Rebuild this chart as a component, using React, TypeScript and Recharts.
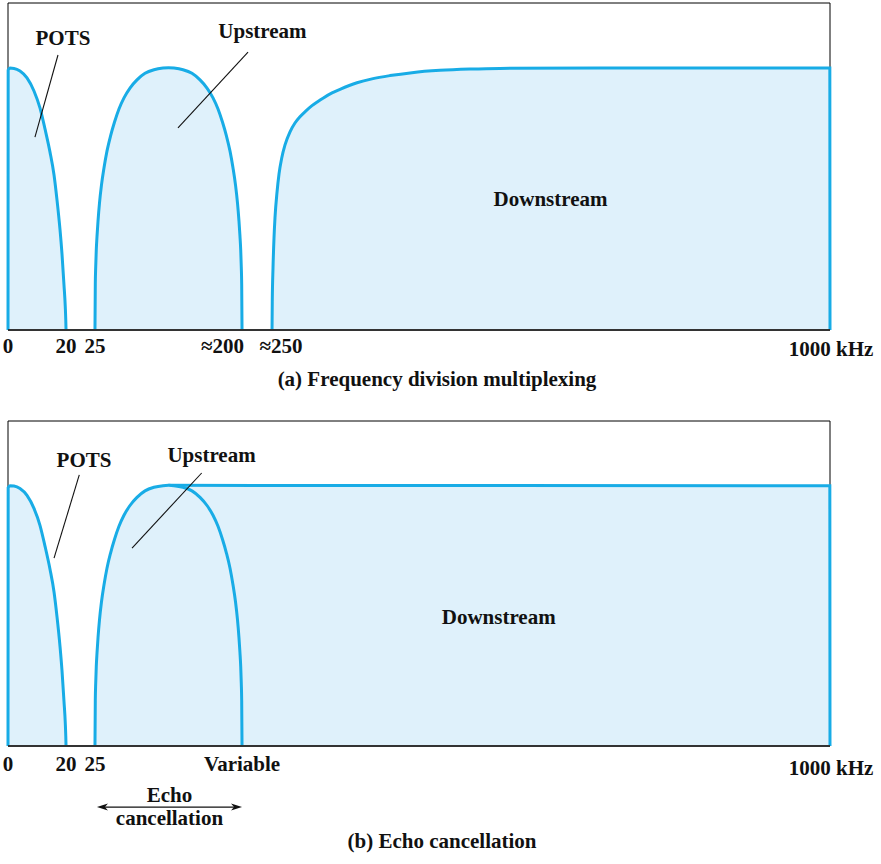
import { Area, ComposedChart, ReferenceArea, ReferenceDot, ReferenceLine, XAxis, YAxis } from 'recharts';

const FONT = '"Liberation Serif", "Times New Roman", serif';
const BLUE = '#18ace6';
const FILL = '#dff1fb';

// pos = place along the (non-linear) schematic frequency axis, 0 = 0 kHz, 100 = 1000 kHz
// level = relative signal level in percent of the panel height
const tickPositions = [0, 7.06, 10.58, 28.47, 32.12, 100];
const fdmTickLabels = ['0', '20', '25', '≈200', '≈250', '1000 kHz'];
const echoTickPositions = [0, 7.06, 10.58, 28.47, 100];
const echoTickLabels = ['0', '20', '25', 'Variable', '1000 kHz'];

const potsCurve = [
  [0, 0], [0.02, 79.5], [0.24, 80.1], [0.73, 80.0], [1.46, 79.2], [2.31, 77.1], [3.16, 73.1],
  [3.89, 67.9], [4.5, 61.5], [5.11, 54.4], [5.6, 47.4], [5.96, 39.8], [6.33, 30.6],
  [6.57, 23.2], [6.81, 13.8], [6.97, 7.0], [7.03, 3.0], [7.06, 0]
];

const upstreamCurve = [
  [10.58, 0], [10.62, 13.9], [10.67, 19.3], [10.74, 24.5], [10.83, 28.7], [10.95, 33.3],
  [11.13, 38.8], [11.37, 44.3], [11.68, 49.6], [12.04, 54.7], [12.47, 59.3], [12.96, 63.6],
  [13.5, 67.6], [14.11, 71.0], [14.84, 74.0], [15.69, 76.5], [16.67, 78.5], [17.76, 79.6],
  [18.86, 80.1], [19.53, 80.2], [20.19, 80.1], [21.29, 79.6], [22.38, 78.5], [23.36, 76.5],
  [24.21, 74.0], [24.94, 71.0], [25.55, 67.6], [26.09, 63.6], [26.58, 59.3], [27.01, 54.7],
  [27.37, 49.6], [27.68, 44.3], [27.92, 38.8], [28.1, 33.3], [28.22, 28.7], [28.31, 24.5],
  [28.38, 19.3], [28.43, 13.9], [28.47, 0]
];

const fdmDownstreamCurve = [
  [32.12, 0], [32.15, 8.6], [32.24, 19.0], [32.36, 28.1], [32.48, 34.3], [32.73, 42.2],
  [32.97, 47.7], [33.3, 52.6], [33.7, 56.6], [34.31, 60.6], [34.91, 63.3], [35.52, 65.2],
  [36.25, 67.0], [36.98, 68.6], [37.71, 69.9], [38.32, 70.9], [39.42, 72.5], [40.39, 73.6],
  [42.46, 75.6], [44.28, 76.8], [46.47, 77.8], [49.15, 78.7], [52.55, 79.4], [56.2, 79.8],
  [59.85, 80.0], [72.02, 80.1], [99.98, 80.1], [100, 0]
];

const echoDownstreamCurve = [[19.53, 80.2], [99.98, 80.1], [100, 0]];

function buildRows(series: Record<string, number[][]>) {
  const map = new Map<number, Record<string, number>>();
  for (const [key, pts] of Object.entries(series)) {
    for (const [x, y] of pts) {
      const row = map.get(x) ?? { pos: x };
      row[key] = y;
      map.set(x, row);
    }
  }
  return [...map.values()].sort((a, b) => a.pos - b.pos);
}

const fdmRows = buildRows({ pots: potsCurve, up: upstreamCurve, down: fdmDownstreamCurve });
const echoRows = buildRows({ pots: potsCurve, up: upstreamCurve, down: echoDownstreamCurve });

const textStyle = { fontFamily: FONT, fontWeight: 700, fontSize: 21, fill: '#111' };

function FreqTick(props: any) {
  const { x, y, payload, positions, labels, shifts, baseDy, lastDy } = props;
  const i = positions.indexOf(payload.value);
  const label = labels[i];
  const isLast = i === labels.length - 1;
  return (
    <text x={x + (shifts[label] ?? 0)} y={y + (isLast ? lastDy : baseDy)} textAnchor="middle" style={textStyle}>
      {label}
    </text>
  );
}

function note(text: string) {
  return (p: any) => (
    <text x={p.viewBox.x} y={p.viewBox.y} textAnchor="middle" style={textStyle}>
      {text}
    </text>
  );
}

function caption(text: string, dx: number, dy: number) {
  return (p: any) => (
    <text x={p.viewBox.x + p.viewBox.width / 2 + dx} y={p.viewBox.y + dy} textAnchor="middle" style={textStyle}>
      {text}
    </text>
  );
}

function EchoArrow(props: any) {
  const { x1, y1, x2 } = props;
  const mid = (x1 + x2) / 2;
  return (
    <g>
      <line x1={x1 + 4} y1={y1} x2={x2 - 4} y2={y1} stroke="#111" strokeWidth={1.2} />
      <polygon points={`${x1},${y1} ${x1 + 11},${y1 - 3.5} ${x1 + 8},${y1} ${x1 + 11},${y1 + 3.5}`} fill="#111" />
      <polygon points={`${x2},${y1} ${x2 - 11},${y1 - 3.5} ${x2 - 8},${y1} ${x2 - 11},${y1 + 3.5}`} fill="#111" />
      <text x={mid} y={y1 - 5} textAnchor="middle" style={textStyle}>Echo</text>
      <text x={mid} y={y1 + 18} textAnchor="middle" style={textStyle}>cancellation</text>
    </g>
  );
}

const areaProps = {
  type: 'monotone' as const,
  stroke: BLUE,
  strokeWidth: 3,
  fill: FILL,
  fillOpacity: 1,
  connectNulls: true,
  dot: false,
  activeDot: false,
  isAnimationActive: false
};

const leader = { stroke: '#111', strokeWidth: 1.1 };

export default function App() {
  return (
    <div style={{ position: 'absolute', left: 0, top: 0, width: 881, height: 864, background: '#fff' }}>
      <ComposedChart width={881} height={400} data={fdmRows} margin={{ top: 3, right: 51, bottom: 40, left: 8 }}>
        <XAxis
          dataKey="pos"
          type="number"
          domain={[0, 100]}
          ticks={tickPositions}
          interval={0}
          height={30}
          tickLine={false}
          tickSize={0}
          tickMargin={0}
          axisLine={{ stroke: '#333', strokeWidth: 2 }}
          tick={<FreqTick positions={tickPositions} labels={fdmTickLabels} shifts={{ '≈200': -19.5, '≈250': 9, '1000 kHz': 1 }} baseDy={23} lastDy={26} />}
          label={caption('(a) Frequency division multiplexing', 18, 56)}
        />
        <YAxis hide type="number" domain={[0, 100]} />
        <ReferenceArea x1={0} x2={100} y1={0} y2={100} fill="none" stroke="#000" strokeWidth={1} ifOverflow="visible" />
        <Area dataKey="pots" {...areaProps} />
        <Area dataKey="up" {...areaProps} />
        <Area dataKey="down" {...areaProps} />
        <ReferenceLine segment={[{ x: 6.08, y: 84.1 }, { x: 3.28, y: 59.0 }]} {...leader} />
        <ReferenceLine segment={[{ x: 29.2, y: 85.0 }, { x: 20.68, y: 61.8 }]} {...leader} />
        <ReferenceDot x={6.69} y={87.2} r={0} fill="none" stroke="none" label={note('POTS')} />
        <ReferenceDot x={30.96} y={89.3} r={0} fill="none" stroke="none" label={note('Upstream')} />
        <ReferenceDot x={66.0} y={37.9} r={0} fill="none" stroke="none" label={note('Downstream')} />
      </ComposedChart>
      <ComposedChart width={881} height={464} data={echoRows} margin={{ top: 21, right: 51, bottom: 88, left: 8 }}>
        <XAxis
          dataKey="pos"
          type="number"
          domain={[0, 100]}
          ticks={echoTickPositions}
          interval={0}
          height={30}
          tickLine={false}
          tickSize={0}
          tickMargin={0}
          axisLine={{ stroke: '#333', strokeWidth: 2 }}
          tick={<FreqTick positions={echoTickPositions} labels={echoTickLabels} shifts={{ '1000 kHz': 1 }} baseDy={25} lastDy={29} />}
          label={caption('(b) Echo cancellation', 23, 102)}
        />
        <YAxis hide type="number" domain={[0, 100]} />
        <ReferenceArea x1={0} x2={100} y1={0} y2={100} fill="none" stroke="#000" strokeWidth={1} ifOverflow="visible" />
        <Area dataKey="down" {...areaProps} />
        <Area dataKey="pots" {...areaProps} />
        <Area dataKey="up" {...areaProps} />
        <ReferenceLine segment={[{ x: 8.67, y: 83.4 }, { x: 5.6, y: 57.8 }]} {...leader} />
        <ReferenceLine segment={[{ x: 23.56, y: 84.0 }, { x: 15.09, y: 60.9 }]} {...leader} />
        <ReferenceLine segment={[{ x: 10.82, y: -18.8 }, { x: 28.47, y: -18.8 }]} ifOverflow="visible" shape={EchoArrow} />
        <ReferenceDot x={9.25} y={85.9} r={0} fill="none" stroke="none" label={note('POTS')} />
        <ReferenceDot x={24.76} y={87.5} r={0} fill="none" stroke="none" label={note('Upstream')} />
        <ReferenceDot x={59.7} y={37.5} r={0} fill="none" stroke="none" label={note('Downstream')} />
      </ComposedChart>
    </div>
  );
}
